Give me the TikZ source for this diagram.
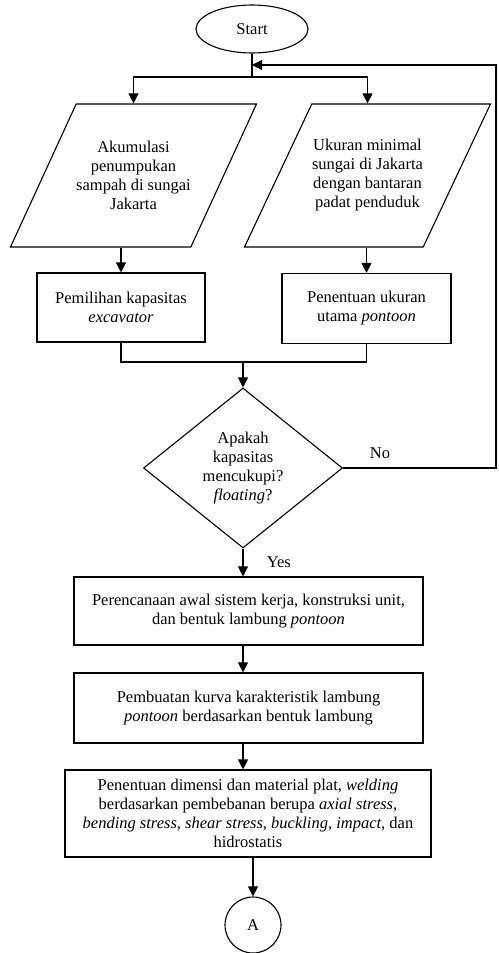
\documentclass[tikz,border=0pt]{standalone}
\usepackage{fontspec}
\setmainfont{Liberation Serif}
\usetikzlibrary{shapes.geometric, arrows.meta}

\tikzset{
  flow/.style={line width=1.1pt, >={Triangle[length=10pt,width=10pt]}},
  terminal/.style={draw, ellipse, line width=1.1pt, minimum width=112pt, minimum height=48pt, inner sep=0pt},
  inputbox/.style={draw, trapezium, trapezium left angle=64, trapezium right angle=116,
    trapezium stretches body=true, line width=1.1pt, minimum width=246pt, minimum height=143pt,
    inner xsep=-5pt, inner ysep=33pt, align=center},
  procbox/.style={draw, rectangle, line width=1.1pt, align=center, inner sep=0pt},
  decision/.style={draw, diamond, line width=1.1pt, minimum width=199pt, minimum height=160pt,
    inner sep=0pt, align=center},
  connector/.style={draw, circle, line width=1.1pt, minimum size=56pt, inner sep=0pt},
}

\begin{document}
\begin{tikzpicture}[x=1pt, y=-1pt, font=\fontsize{16.5}{19}\selectfont]
\useasboundingbox (0,0) rectangle (498,953);

\node[terminal] (start) at (252,29) {Start};
\coordinate (split) at (252,77);
\coordinate (back) at (252,65);
\coordinate (loop) at (496,65);

\node[inputbox] (in1) at (133.5,175.5) {Akumulasi\\penumpukan\\sampah di sungai\\Jakarta};
\node[inputbox] (in2) at (367.5,175.5) {Ukuran minimal\\sungai di Jakarta\\dengan bantaran\\padat penduduk};

\node[procbox, minimum width=168pt, minimum height=69pt] (cap) at (121,307.5)
  {Pemilihan kapasitas\\\textit{excavator}};
\node[procbox, minimum width=169pt, minimum height=70pt] (size) at (366.5,308.5)
  {Penentuan ukuran\\utama \textit{pontoon}};
\coordinate (merge) at (243,362);

\node[decision] (check) at (243,468) {Apakah\\kapasitas\\mencukupi?\\\textit{floating}?};

\node[procbox, minimum width=349pt, minimum height=68pt] (plan) at (248.5,611)
  {Perencanaan awal sistem kerja, konstruksi unit,\\dan bentuk lambung \textit{pontoon}};
\node[procbox, minimum width=349pt, minimum height=70pt] (curve) at (248.5,708)
  {Pembuatan kurva karakteristik lambung\\\textit{pontoon} berdasarkan bentuk lambung};
\node[procbox, minimum width=366pt, minimum height=87pt] (plate) at (248,813.5)
  {Penentuan dimensi dan material plat, \textit{welding}\\
   berdasarkan pembebanan berupa \textit{axial stress},\\
   \textit{bending stress}, \textit{shear stress}, \textit{buckling}, \textit{impact}, dan\\
   hidrostatis};
\node[connector] (pageA) at (253,925) {A};

% connectors
\draw[flow] (start.south) -- (split);
\draw[flow, ->] (split) -| (in1.north);
\draw[flow, ->] (split) -| (in2.north);
\draw[flow, ->] (cap.north |- in1.south) -- (cap.north);
\draw[flow, ->] (size.north |- in2.south) -- (size.north);
\draw[flow] (cap.south) |- (merge) -| (size.south);
\draw[flow, ->] (merge) -- (check.north);
\draw[flow, ->] (check.south) -- node[right, xshift=20pt] {Yes} (check.south |- plan.north);
\draw[flow, ->] (check.south |- plan.south) -- (check.south |- curve.north);
\draw[flow, ->] (check.south |- curve.south) -- (check.south |- plate.north);
\draw[flow, ->] (pageA.north |- plate.south) -- (pageA.north);
\draw[flow, ->] (check.east) -| (loop) -- (back);
\node (no) at (380,453) {No};
\end{tikzpicture}
\end{document}
